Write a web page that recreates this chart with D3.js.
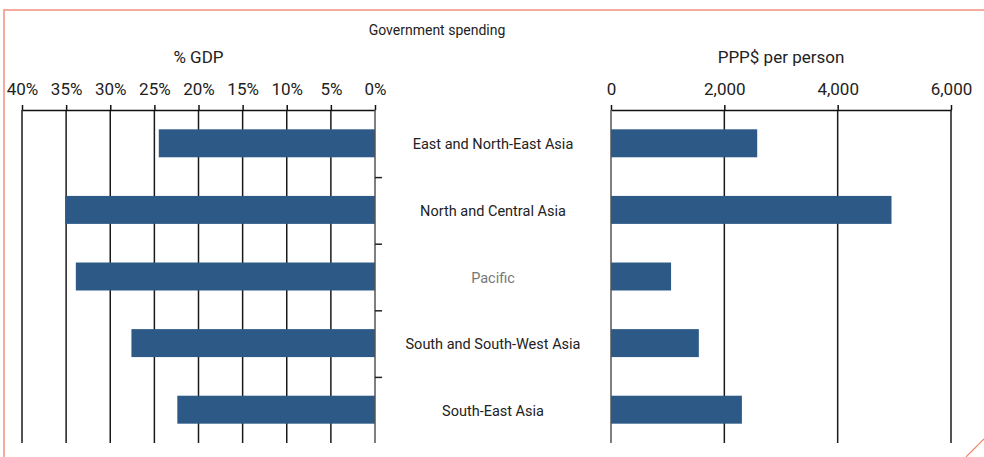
<!DOCTYPE html>
<html>
<head>
<meta charset="utf-8">
<script src="https://cdn.jsdelivr.net/npm/d3@7"></script>
<style>
  body { margin: 0; background: #fff; }
  svg text { font-family: Roboto, "Noto Sans", sans-serif; fill: #222; }
  .grid line { stroke: #1a1a1a; stroke-width: 1.5px; }
</style>
</head>
<body>
<div id="chart"></div>
<script>
// Government spending by subregion
var regions = ["East and North-East Asia", "North and Central Asia", "Pacific", "South and South-West Asia", "South-East Asia"];
var gdpShare = [24.5, 35.1, 33.9, 27.6, 22.4];      // % of GDP
var pppPerPerson = [2580, 4950, 1060, 1550, 2310];  // PPP$ per person
var gdpTicks = [40, 35, 30, 25, 20, 15, 10, 5, 0];
var pppTicks = [0, 2000, 4000, 6000];

var width = 984, height = 457;
var plotTop = 110, plotBottom = 443;
var barColor = "#2d5986";

var svg = d3.select("#chart").append("svg")
  .attr("width", width)
  .attr("height", height);

// frame
svg.append("path")
  .attr("d", "M4,457 L4,10 L984,10")
  .attr("fill", "none")
  .attr("stroke", "#f4aa9c")
  .attr("stroke-width", 2);
svg.append("line")
  .attr("x1", 966).attr("y1", 457).attr("x2", 984).attr("y2", 439)
  .attr("stroke", "#f08a6c")
  .attr("stroke-width", 1.2);

var y = d3.scaleBand()
  .domain(regions)
  .range([plotTop, plotBottom])
  .paddingInner(0.58)
  .paddingOuter(0.29);

var xLeft = d3.scaleLinear().domain([40, 0]).range([22, 375]);
var xRight = d3.scaleLinear().domain([0, 6000]).range([611, 951]);

svg.append("text")
  .attr("x", 437).attr("y", 35)
  .attr("text-anchor", "middle")
  .style("font-size", "14px")
  .text("Government spending");

function panel(x, ticks, fmt, title, values, zeroX) {
  var g = svg.append("g");

  // gridlines
  g.append("g").attr("class", "grid")
    .selectAll("line")
    .data(ticks.filter(function(t) { return x(t) !== zeroX; }))
    .enter().append("line")
    .attr("x1", function(d) { return x(d); })
    .attr("x2", function(d) { return x(d); })
    .attr("y1", plotTop).attr("y2", plotBottom);

  // top axis
  var axis = g.append("g")
    .attr("transform", "translate(0," + plotTop + ")")
    .call(d3.axisTop(x).tickValues(ticks).tickFormat(fmt).tickSize(5).tickPadding(10).tickSizeOuter(0));
  axis.select(".domain").attr("stroke", "#111").attr("stroke-width", 1.5);
  axis.selectAll(".tick line").attr("stroke", "#111").attr("stroke-width", 1.5);
  axis.selectAll("text")
    .style("font-size", "17px")
    .style("font-family", "Roboto, sans-serif")
    .attr("fill", "#222");

  g.append("text")
    .attr("x", (x.range()[0] + x.range()[1]) / 2)
    .attr("y", 63)
    .attr("text-anchor", "middle")
    .style("font-size", "17px")
    .text(title);

  // bars
  g.selectAll("rect")
    .data(values)
    .enter().append("rect")
    .attr("x", function(d) { return Math.min(x(d), zeroX); })
    .attr("width", function(d) { return Math.abs(x(d) - zeroX); })
    .attr("y", function(d, i) { return y(regions[i]); })
    .attr("height", y.bandwidth())
    .attr("fill", barColor);

  // zero line
  g.append("line")
    .attr("x1", zeroX).attr("x2", zeroX)
    .attr("y1", plotTop).attr("y2", plotBottom)
    .attr("stroke", "#555").attr("stroke-width", 1.5);

  return g;
}

var left = panel(xLeft, gdpTicks, function(d) { return d + "%"; }, "% GDP", gdpShare, xLeft(0));
panel(xRight, pppTicks, d3.format(","), "PPP$ per person", pppPerPerson, xRight(0));

// category separators on left panel's axis
left.selectAll(".sep")
  .data(regions.slice(1))
  .enter().append("line")
  .attr("class", "sep")
  .attr("x1", xLeft(0)).attr("x2", xLeft(0) + 7)
  .attr("y1", function(d) { return y(d) - y.step() * y.paddingInner() / 2 + 1; })
  .attr("y2", function(d) { return y(d) - y.step() * y.paddingInner() / 2 + 1; })
  .attr("stroke", "#222").attr("stroke-width", 1.5);

// category labels
svg.selectAll(".cat")
  .data(regions)
  .enter().append("text")
  .attr("class", "cat")
  .attr("x", (xLeft(0) + xRight(0)) / 2)
  .attr("y", function(d) { return y(d) + y.bandwidth() / 2 + 6; })
  .attr("text-anchor", "middle")
  .style("font-size", "14.5px")
  .style("fill", function(d) { return d === "Pacific" ? "#777" : "#222"; })
  .text(function(d) { return d; });
</script>
</body>
</html>
